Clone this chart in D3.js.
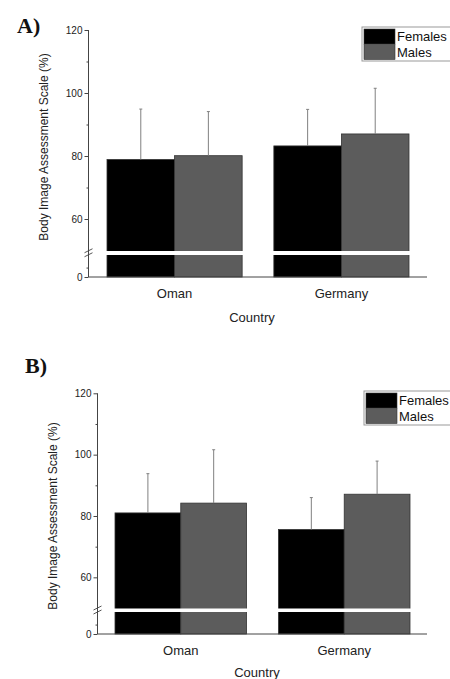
<!DOCTYPE html>
<html>
<head>
<meta charset="utf-8">
<script src="https://d3js.org/d3.v7.min.js"></script>
<style>
  body { margin: 0; background: #fff; }
</style>
</head>
<body>
<script>
// data
const countries = ["Oman", "Germany"];
const genders = ["Females", "Males"];
const meansA = [[78.9, 80.1], [83.2, 87.0]];
const errA   = [[94.9, 94.1], [94.8, 101.5]];
const meansB = [[81.0, 84.2], [75.6, 87.1]];
const errB   = [[93.8, 101.6], [86.0, 97.9]];
const upperTicks = [60, 80, 100, 120];
const upperMinor = [70, 90, 110];

const colors = {Females: "#000000", Males: "#5c5c5c"};
const sans = "Liberation Sans, Arial, sans-serif";

const svg = d3.select("body").append("svg").attr("width", 450).attr("height", 679)
    .attr("font-family", sans);

function drawPanel(p) {
    const g = svg.append("g");

    // upper part of the broken axis (50-120) and lower stub (0-7)
    const yUp = d3.scaleLinear().domain([50, 120]).range([p.y50, p.y120]);
    const yLow = d3.scaleLinear().domain([0, 7]).range([p.y0, p.gapBottom]);

    const x = d3.scaleBand().domain(countries).range([p.barLeft, p.barRight]).paddingInner(p.padIn);
    const xs = d3.scaleBand().domain(genders).range([0, x.bandwidth()]);

    const rows = [];
    countries.forEach((c, i) => genders.forEach((s, j) => {
        rows.push({country: c, sex: s, v: p.means[i][j], e: p.errs[i][j]});
    }));
    const cx = d => x(d.country) + xs(d.sex) + xs.bandwidth() / 2;

    // bars
    g.selectAll("rect.bar").data(rows).enter().append("rect")
        .attr("class", "bar")
        .attr("x", d => x(d.country) + xs(d.sex))
        .attr("width", xs.bandwidth())
        .attr("y", d => yUp(d.v))
        .attr("height", d => yLow(0) - yUp(d.v))
        .attr("fill", d => colors[d.sex])
        .attr("stroke", "#333").attr("stroke-width", 0.8);

    // error bars (upper only)
    g.selectAll("line.err").data(rows).enter().append("line")
        .attr("x1", cx).attr("x2", cx)
        .attr("y1", d => yUp(d.v)).attr("y2", d => yUp(d.e))
        .attr("stroke", "#808080").attr("stroke-width", 1);
    g.selectAll("line.cap").data(rows).enter().append("line")
        .attr("x1", d => cx(d) - 1.5).attr("x2", d => cx(d) + 1.5)
        .attr("y1", d => yUp(d.e)).attr("y2", d => yUp(d.e))
        .attr("stroke", "#808080").attr("stroke-width", 1);

    // white band for the axis break
    g.append("rect")
        .attr("x", p.barLeft - 1).attr("width", p.barRight - p.barLeft + 2)
        .attr("y", p.y50 + 0.5).attr("height", p.gapBottom - p.y50 - 0.5)
        .attr("fill", "#fff");

    // axes
    const ga = g.append("g").attr("transform", `translate(${p.axisX},0)`)
        .call(d3.axisLeft(yUp).tickValues(upperTicks).tickSize(4).tickPadding(2));
    ga.select(".domain").remove();
    g.append("g").attr("transform", `translate(${p.axisX},0)`)
        .call(d3.axisLeft(yUp).tickValues(upperMinor).tickSize(2).tickFormat(""))
        .select(".domain").remove();
    const gl = g.append("g").attr("transform", `translate(${p.axisX},0)`)
        .call(d3.axisLeft(yLow).tickValues([0]).tickSize(4).tickPadding(2).tickFormat(d3.format("d")));
    gl.select(".domain").remove();
    g.append("g").attr("transform", `translate(${p.axisX},0)`)
        .call(d3.axisLeft(yLow).tickValues([3]).tickSize(2).tickFormat(""))
        .select(".domain").remove();
    g.selectAll(".tick text").attr("font-size", 10).attr("fill", "#222")
        .attr("font-family", sans);
    g.selectAll(".tick line").attr("stroke", "#444");

    // vertical axis line and bottom line
    g.append("line").attr("x1", p.axisX).attr("x2", p.axisX)
        .attr("y1", yUp(120)).attr("y2", yLow(0)).attr("stroke", "#444").attr("stroke-width", 1);
    g.append("line").attr("x1", p.axisX).attr("x2", p.axisEnd)
        .attr("y1", yLow(0)).attr("y2", yLow(0)).attr("stroke", "#444").attr("stroke-width", 1);

    // break marks on the axis
    const bm = (p.y50 + p.gapBottom) / 2;
    [-2, 2].forEach(o => {
        g.append("line")
            .attr("x1", p.axisX - 4).attr("x2", p.axisX + 4)
            .attr("y1", bm + o + 2).attr("y2", bm + o - 2)
            .attr("stroke", "#444").attr("stroke-width", 0.9);
    });

    // category labels
    g.selectAll("text.cat").data(countries).enter().append("text")
        .attr("x", d => x(d) + x.bandwidth() / 2)
        .attr("y", p.catY)
        .attr("text-anchor", "middle").attr("font-size", 13).attr("fill", "#222")
        .text(d => d);
    g.append("text").attr("x", p.countryX).attr("y", p.countryY)
        .attr("text-anchor", "middle").attr("font-size", 13).attr("fill", "#222")
        .text("Country");

    // y title
    g.append("text")
        .attr("transform", `translate(${p.titleX},${p.titleY}) rotate(-90)`)
        .attr("text-anchor", "middle").attr("font-size", 12).attr("fill", "#222")
        .text("Body Image Assessment Scale  (%)");

    // panel letter
    g.append("text").attr("x", p.letterX).attr("y", p.letterY)
        .attr("font-family", "Liberation Serif, DejaVu Serif, serif")
        .attr("font-weight", "bold").attr("font-size", 22).attr("fill", "#111")
        .text(p.letter);

    // legend
    const lg = g.append("g").attr("transform", `translate(${p.legX},${p.legY})`);
    lg.append("rect").attr("x", 0).attr("y", 0).attr("width", 100).attr("height", 34)
        .attr("fill", "#fff").attr("stroke", "#999").attr("stroke-width", 1);
    genders.forEach((s, i) => {
        lg.append("rect").attr("x", 2).attr("y", 2 + i * 15.5).attr("width", 31).attr("height", 15)
            .attr("fill", colors[s]).attr("stroke", "#333").attr("stroke-width", 0.6);
        lg.append("text").attr("x", 35).attr("y", 14 + i * 15.5)
            .attr("font-size", 13).attr("fill", "#111").text(s);
    });
}

drawPanel({
    letter: "A)", letterX: 17, letterY: 33,
    means: meansA, errs: errA,
    axisX: 88.5, axisEnd: 427,
    y120: 30, y50: 250.5, gapBottom: 255, y0: 277,
    barLeft: 107, barRight: 409, padIn: 0.19,
    catY: 298, countryX: 252, countryY: 322,
    titleX: 48, titleY: 147,
    legX: 362, legY: 27
});

drawPanel({
    letter: "B)", letterX: 25, letterY: 373,
    means: meansB, errs: errB,
    axisX: 97.5, axisEnd: 427,
    y120: 393.3, y50: 608, gapBottom: 612, y0: 634,
    barLeft: 115, barRight: 410, padIn: 0.195,
    catY: 655, countryX: 257, countryY: 677,
    titleX: 57, titleY: 516,
    legX: 364, legY: 391
});
</script>
</body>
</html>
